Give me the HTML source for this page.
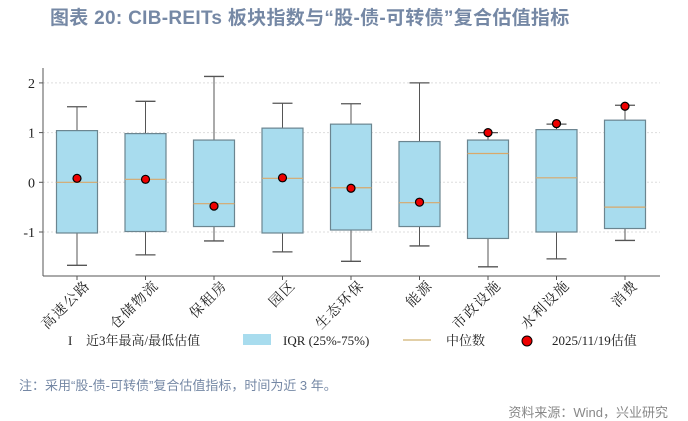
<!DOCTYPE html>
<html><head><meta charset="utf-8"><style>
body{margin:0;width:688px;height:421px;background:#fff;overflow:hidden;position:relative;font-family:"Liberation Sans","Noto Sans CJK SC",sans-serif}
.t{position:absolute;left:50px;top:3px;font-size:19px;font-weight:bold;color:#7588a5;white-space:nowrap;letter-spacing:0.3px}
.note{position:absolute;left:19px;top:375px;font-size:13px;color:#7588a5}
.src{position:absolute;right:20px;top:402px;font-size:13px;color:#888}
svg{position:absolute;left:0;top:0}
</style></head><body>
<div class="t">图表 20: CIB-REITs 板块指数与“股-债-可转债”复合估值指标</div>
<svg width="688" height="421">
<g id="grid"></g><g id="boxes"></g><g id="axes"></g>
<g font-family="'Liberation Serif','Noto Serif CJK SC',serif" font-size="13" fill="#222">
<text x="68" y="345">I</text>
<text x="86" y="345">近3年最高/最低估值</text>
<rect x="243" y="334" width="28" height="11" fill="#a8dcee"/>
<text x="283" y="345">IQR (25%-75%)</text>
<line x1="403" y1="340" x2="431" y2="340" stroke="#d9bf8a" stroke-width="1.5"/>
<text x="446" y="345">中位数</text>
<circle cx="527" cy="341" r="5" fill="#e00" stroke="#000"/>
<text x="552" y="345">2025/11/19估值</text>
</g>
</svg>
<div class="note">注：采用“股-债-可转债”复合估值指标，时间为近 3 年。</div>
<div class="src">资料来源：Wind，兴业研究</div>
<script>
const categories=["高速公路","仓储物流","保租房","园区","生态环保","能源","市政设施","水利设施","消费"];
const maxVals=[1.52,1.63,2.13,1.59,1.58,2.0,1.0,1.17,1.55];
const q3Vals=[1.04,0.98,0.85,1.09,1.17,0.82,0.85,1.06,1.25];
const medVals=[0.0,0.06,-0.43,0.08,-0.11,-0.41,0.58,0.09,-0.50];
const q1Vals=[-1.02,-0.99,-0.89,-1.02,-0.96,-0.89,-1.13,-1.0,-0.93];
const minVals=[-1.67,-1.46,-1.18,-1.40,-1.59,-1.28,-1.70,-1.54,-1.17];
const currentVals=[0.08,0.06,-0.48,0.09,-0.12,-0.40,1.0,1.18,1.53];
const yTicks=[2,1,0,-1];
const NS="http://www.w3.org/2000/svg";
const X0=43,X1=660,Y0=276,YT=68;
const yS=v=>182.3-v*49.7;
const xS=i=>77+i*68.5;
function mk(tag,attrs,parent){const e=document.createElementNS(NS,tag);for(const k in attrs)e.setAttribute(k,attrs[k]);parent.appendChild(e);return e;}
const grid=document.getElementById('grid'),boxes=document.getElementById('boxes'),axes=document.getElementById('axes');
yTicks.forEach(v=>{
 const l=mk('line',{x1:X0,x2:X1,y1:yS(v),y2:yS(v),stroke:'#ddd','stroke-dasharray':'2,2'},grid);
 
 
 const tk=mk('line',{x1:X0-4,x2:X0,y1:yS(v),y2:yS(v),stroke:'#555'},axes);
 
 
 const t=mk('text',{x:X0-8,y:yS(v)+5,'text-anchor':'end','font-family':"'Liberation Serif',serif",'font-size':14,fill:'#222'},axes);
 t.textContent=v;
 
 
});
const ya=mk('line',{x1:X0,x2:X0,y1:YT,y2:Y0,stroke:'#555'},axes);


const xa=mk('line',{x1:X0,x2:X1,y1:Y0,y2:Y0,stroke:'#555'},axes);


categories.forEach((c,i)=>{
 const x=xS(i),g=mk('g',{},boxes);
 
 
 mk('line',{x1:x,x2:x,y1:yS(maxVals[i]),y2:yS(q3Vals[i]),stroke:'#555'},g);
 mk('line',{x1:x,x2:x,y1:yS(q1Vals[i]),y2:yS(minVals[i]),stroke:'#555'},g);
 mk('line',{x1:x-10,x2:x+10,y1:yS(maxVals[i]),y2:yS(maxVals[i]),stroke:'#555','stroke-width':1.3},g);
 mk('line',{x1:x-10,x2:x+10,y1:yS(minVals[i]),y2:yS(minVals[i]),stroke:'#555','stroke-width':1.3},g);
 mk('rect',{x:x-20.5,y:yS(q3Vals[i]),width:41,height:yS(q1Vals[i])-yS(q3Vals[i]),fill:'#a8dcee',stroke:'#6b8590','stroke-width':1.2},g);
 mk('line',{x1:x-20.5,x2:x+20.5,y1:yS(medVals[i]),y2:yS(medVals[i]),stroke:'#d9a86a','stroke-width':1.2},g);
 const p=mk('circle',{cx:x,cy:yS(currentVals[i]),r:4,fill:'#e00',stroke:'#000','stroke-width':1.2},g);
 
 
 const tk=mk('line',{x1:x,x2:x,y1:Y0,y2:Y0+4,stroke:'#555'},axes);
 
 
 const t=mk('text',{x:0,y:0,'text-anchor':'end','font-family':"'Liberation Serif','Noto Serif CJK SC',serif",'font-size':14,'letter-spacing':'1.5',fill:'#222',transform:`translate(${x+14},${Y0+10}) rotate(-45)`},axes);
 t.textContent=c;
 
 
});
</script>
</body></html>
